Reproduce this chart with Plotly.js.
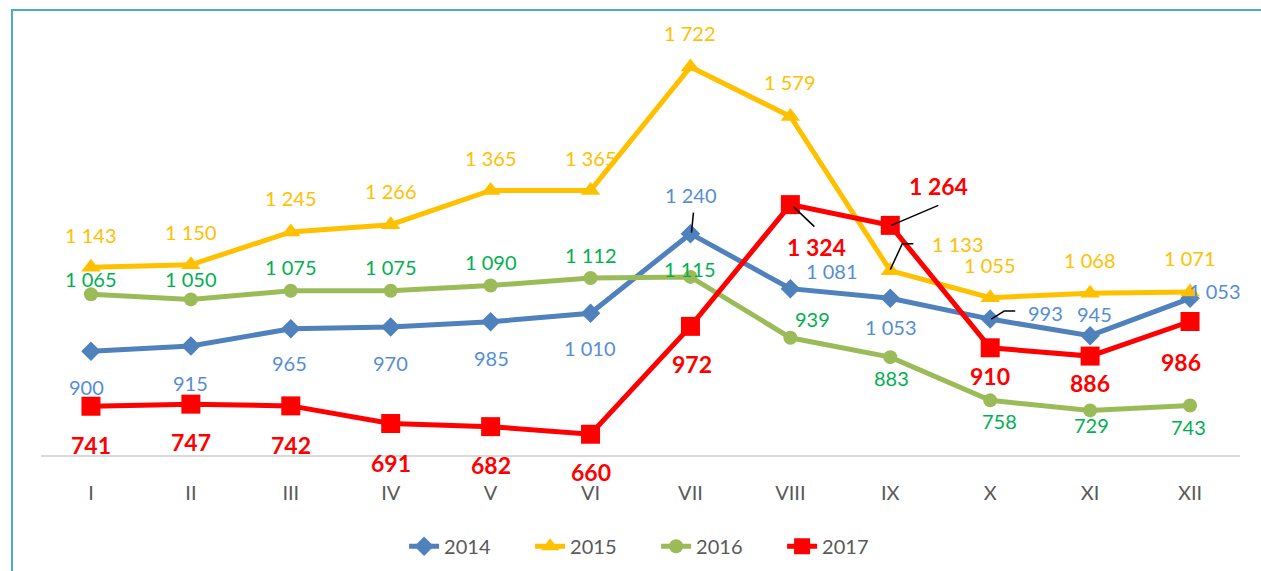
<!DOCTYPE html>
<html>
<head>
<meta charset="utf-8">
<script src="https://cdn.plot.ly/plotly-3.0.1.min.js"></script>
<style>
html,body{margin:0;padding:0;background:#fff;}
#chart{width:1261px;height:571px;}
#frame{position:absolute;left:11px;top:9px;width:1252px;height:570px;border-left:2px solid #4BACC6;border-top:2px solid #4BACC6;pointer-events:none;}
</style>
</head>
<body>
<div id="chart"></div>
<div id="frame"></div>
<script>
// ---- data ----
const months = ["I","II","III","IV","V","VI","VII","VIII","IX","X","XI","XII"];
const v2014 = [900, 915, 965, 970, 985, 1010, 1240, 1081, 1053, 993, 945, 1053];
const v2015 = [1143, 1150, 1245, 1266, 1365, 1365, 1722, 1579, 1133, 1055, 1068, 1071];
const v2016 = [1065, 1050, 1075, 1075, 1090, 1112, 1115, 939, 883, 758, 729, 743];
const v2017 = [741, 747, 742, 691, 682, 660, 972, 1324, 1264, 910, 886, 986];
const seriesNames = ["2014","2015","2016","2017"];

// ---- styles ----
const lineColors = ["#4F81BD","#FFC000","#9BBB59","#FF0000"];
const labelColors = ["#558ED5","#FFC000","#00B050","#FF0000"];
const symbols = ["diamond","triangle-up","circle","square"];
const markerSizes = [15, 17, 14, 19];
const labelSizes = [20, 20, 20, 23];
const FONT = "Lato, 'Open Sans', sans-serif";

// label offsets in pixels [dx, dy(up positive)]
const off2014 = [[-4,-36],[0,-37],[-1,-34],[0,-36],[1,-36],[-1,-35],[1,39],[42,18],[1,-29],[55,6],[4,22],[25,7]];
const off2015 = [[0,32],[0,33],[0,34],[0,34],[0,32],[0,32],[0,34],[0,34],[68,27],[0,33],[0,33],[0,34]];
const off2016 = [[0,15],[0,20],[0,24],[0,24],[0,24],[0,23],[0,8],[22,19],[1,-21],[9,-21],[1,-15],[-2,-21]];
const off2017 = [[0,-39],[0,-38],[0,-39],[0,-39],[0,-38],[0,-38],[2,-38],[26,-42],[48,39],[0,-28],[0,-27],[-9,-40]];
const offsets = [off2014, off2015, off2016, off2017];

const allValues = [v2014, v2015, v2016, v2017];

function fmt(v){
  return String(v).replace(/\B(?=(\d{3})+(?!\d))/g, "\u00a0");
}

const traces = allValues.map((vals, i) => ({
  type: "scatter",
  mode: "lines+markers",
  name: seriesNames[i],
  x: months,
  y: vals,
  line: {color: lineColors[i], width: 5},
  marker: {symbol: symbols[i], size: markerSizes[i], color: lineColors[i]},
  cliponaxis: false,
  hoverinfo: "skip"
}));

const annotations = [];
allValues.forEach((vals, i) => {
  vals.forEach((v, j) => {
    annotations.push({
      xref: "x", yref: "y", x: months[j], y: v,
      text: fmt(v), showarrow: false,
      xshift: offsets[i][j][0], yshift: offsets[i][j][1],
      font: {family: FONT, size: labelSizes[i], color: labelColors[i], weight: i === 3 ? "bold" : "normal"},
      xanchor: "center", yanchor: "middle"
    });
  });
});

// leader lines (pixel offsets from the data point)
function leader(xcat, yval, pts){
  const path = "M" + pts.map(p => p[0] + "," + p[1]).join(" L");
  return {
    type: "path", xref: "x", yref: "y",
    xsizemode: "pixel", ysizemode: "pixel",
    xanchor: xcat, yanchor: yval,
    path: path,
    line: {color: "#000000", width: 1.5}
  };
}
const shapes = [
  leader(months[6], v2014[6], [[1,1],[3,21]]),
  leader(months[9], v2014[9], [[1,0],[14,8],[25,8]]),
  leader(months[7], v2017[7], [[3,-2],[24,-22]]),
  leader(months[8], v2017[8], [[1,0],[48,20]]),
  leader(months[8], v2015[8], [[0,1],[12,27],[23,27]])
];

const layout = {
  width: 1261, height: 571,
  margin: {l: 41, r: 21, t: 40, b: 116, autoexpand: false},
  paper_bgcolor: "#ffffff", plot_bgcolor: "#ffffff",
  font: {family: FONT, color: "#595959"},
  showlegend: true,
  legend: {
    orientation: "h", x: 0.513, xanchor: "center", y: -0.173, yanchor: "top",
    font: {family: FONT, size: 20, color: "#595959"},
    entrywidth: 81, itemwidth: 30, traceorder: "normal"
  },
  xaxis: {
    type: "category", range: [-0.5, 11.5], automargin: false,
    showgrid: false, zeroline: false,
    showline: true, linecolor: "#D9D9D9", linewidth: 2,
    ticks: "", ticklabelstandoff: 19,
    tickfont: {family: FONT, size: 20, color: "#595959"},
    fixedrange: true
  },
  yaxis: {
    range: [600, 1800], visible: false, showgrid: false, zeroline: false, fixedrange: true, automargin: false
  },
  annotations: annotations,
  shapes: shapes
};

Plotly.newPlot("chart", traces, layout, {displayModeBar: false, staticPlot: true});
</script>
</body>
</html>
